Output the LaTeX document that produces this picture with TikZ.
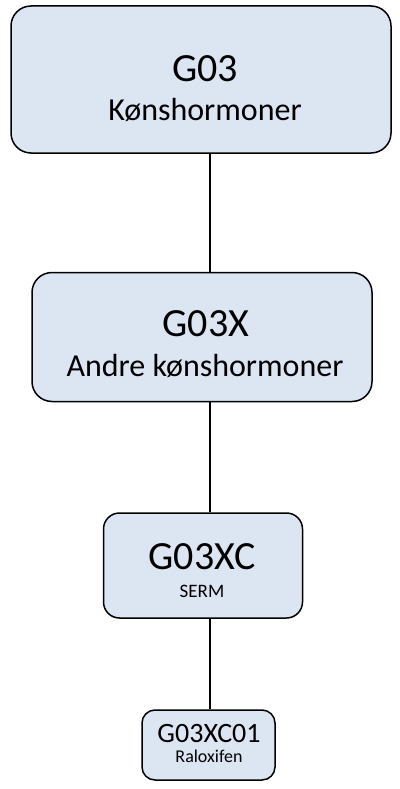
\documentclass[tikz,border=0pt]{standalone}
\usepackage{fontspec}
\setmainfont{Carlito}
\definecolor{boxfill}{HTML}{DCE6F2}
\tikzset{
  box/.style={draw=black, line width=1.5pt, fill=boxfill, rectangle, inner sep=0pt},
  lbl/.style={anchor=base, inner sep=0pt, text=black},
  conn/.style={draw=black, line width=1.3pt}
}
\begin{document}
\begin{tikzpicture}[x=1pt,y=-1pt]
\useasboundingbox (0,0) rectangle (399,789);
% boxes
\node[box, rounded corners=20pt, minimum width=380pt, minimum height=147pt] (b1) at (201,79.5) {};
\node[box, rounded corners=20pt, minimum width=340pt, minimum height=129pt] (b2) at (202,337) {};
\node[box, rounded corners=16pt, minimum width=199pt, minimum height=105pt] (b3) at (203,565.5) {};
\node[box, rounded corners=13pt, minimum width=133pt, minimum height=70pt] (b4) at (208.5,745) {};
% connectors
\coordinate (lx) at (210,0);
\draw[conn] (b1.south -| lx) -- (b2.north -| lx);
\draw[conn] (b2.south -| lx) -- (b3.north -| lx);
\draw[conn] (b3.south -| lx) -- (b4.north -| lx);
% labels
\node[lbl, font=\fontsize{40}{40}\selectfont] (t1a) at (205,82) {G03};
\node[lbl, font=\fontsize{32}{32}\selectfont] (t1b) at (205,121) {Kønshormoner};
\node[lbl, font=\fontsize{40}{40}\selectfont] (t2a) at (206,336) {G03X};
\node[lbl, font=\fontsize{32}{32}\selectfont] (t2b) at (205,376) {Andre kønshormoner};
\node[lbl, font=\fontsize{40}{40}\selectfont] (t3a) at (202,569) {G03XC};
\node[lbl, font=\fontsize{19}{19}\selectfont] (t3b) at (202,597) {SERM};
\node[lbl, font=\fontsize{28}{28}\selectfont] (t4a) at (209,742) {G03XC01};
\node[lbl, font=\fontsize{18}{18}\selectfont] (t4b) at (209,762) {Raloxifen};
\end{tikzpicture}
\end{document}
